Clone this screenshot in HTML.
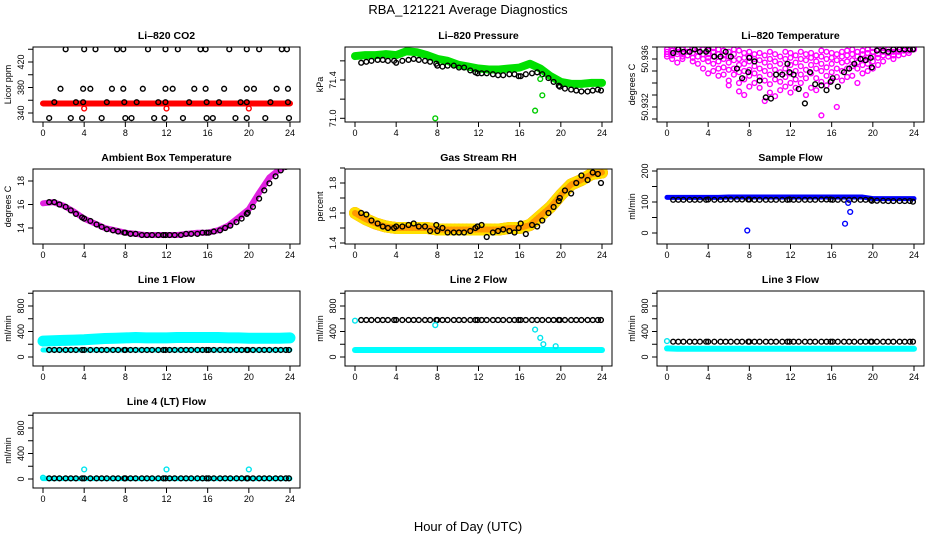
<!DOCTYPE html>
<html><head><meta charset="utf-8"><style>
body{margin:0;background:#fff}
svg{display:block;font-family:"Liberation Sans",Arial,sans-serif}
</style></head><body>
<svg id="c" width="936" height="540" viewBox="0 0 936 540">
<text x="468" y="14" text-anchor="middle" font-size="13">RBA_121221  Average Diagnostics</text>
<text x="468" y="531" text-anchor="middle" font-size="13">Hour of Day (UTC)</text>
</svg>
<script>
// ---- shared time data ----
const T25 = [0,1,2,3,4,5,6,7,8,9,10,11,12,13,14,15,16,17,18,19,20,21,22,23,24];
const tB = [0.6,1.1,1.6,2.2,2.7,3.2,3.8,4.0,4.6,5.2,5.7,6.2,6.8,7.3,7.9,8.0,8.5,9.0,9.6,10.1,10.6,11.2,11.7,11.9,12.3,12.8,13.4,13.9,14.4,15.0,15.5,15.9,16.1,16.6,17.2,17.7,18.2,18.8,19.3,19.8,19.9,20.4,21.0,21.5,22.0,22.6,23.1,23.6,23.9];
const xTicks = [0,4,8,12,16,20,24];
// ---- CO2 ----
const co2BlackT = [2.2,4.0,5.1,7.2,7.8,10.2,11.9,13.1,15.3,15.8,18.1,19.8,21.0,23.2,23.7, 1.7,3.9,4.6,6.7,7.8,9.7,11.9,12.6,14.7,15.8,17.6,19.8,20.5,22.7,23.8, 1.1,3.2,3.9,6.2,7.9,9.1,11.2,11.9,14.2,15.9,17.1,19.2,19.8,22.1,23.8, 0.6,2.7,3.8,5.7,8.0,8.6,10.8,11.8,13.6,15.9,16.5,18.7,19.8,21.6,23.9];
const co2BlackV = [440,440,440,440,440,440,440,440,440,440,440,440,440,440,440, 378,378,378,378,378,378,378,378,378,378,378,378,378,378,378, 357,357,357,357,357,357,357,357,357,357,357,357,357,357,357, 332,332,332,332,332,332,332,332,332,332,332,332,332,332,332];
const co2BandV = [355,355,355,355,355,355,355,355,355,355,355,355,355,355,355,355,355,355,355,355,355,355,355,355,355];
const co2OutT = [4.0,12.0,20.0];
const co2OutV = [347,347,347];
// ---- Pressure ----
const presBlackV = [71.58,71.59,71.6,71.61,71.61,71.6,71.6,71.58,71.6,71.61,71.62,71.61,71.6,71.59,71.57,71.55,71.54,71.55,71.55,71.53,71.53,71.5,71.48,71.47,71.47,71.47,71.46,71.45,71.45,71.46,71.46,71.44,71.44,71.46,71.47,71.48,71.46,71.42,71.38,71.34,71.33,71.31,71.3,71.29,71.28,71.28,71.29,71.3,71.29];
const presBandV = [71.65,71.66,71.66,71.67,71.66,71.7,71.69,71.66,71.62,71.6,71.56,71.54,71.52,71.51,71.51,71.52,71.53,71.57,71.52,71.44,71.38,71.36,71.36,71.37,71.37];
const presOutT = [7.8,17.5,18.2,18.0];
const presOutV = [71.0,71.08,71.24,71.41];
// ---- Li-820 Temperature ----
const tempPinkT = [0,0.5,1,1.5,2,2.5,3,3.5,4,4.5,5,5.5,6,6.5,7,7.5,8,8.5,9,9.5,10,10.5,11,11.5,12,12.5,13,13.5,14,14.5,15,15.5,16,16.5,17,17.5,18,18.5,19,19.5,20,20.5,21,21.5,22,22.5,23,23.5,24];
const tempPinkV = [
[50.9368,50.9366,50.9364,50.9362],[50.9369,50.9367,50.9365,50.9363,50.9360],[50.9369,50.9366,50.9364,50.9357],[50.9368,50.9365,50.9362,50.9360],
[50.9369,50.9366,50.9363],[50.9368,50.9365,50.9361,50.9358],[50.9369,50.9366,50.9362,50.9356],[50.9368,50.9364,50.9360,50.9352],
[50.9367,50.9364,50.9361,50.9358,50.9348],[50.9369,50.9366,50.9362,50.9356,50.9350],[50.9368,50.9364,50.9358,50.9352,50.9346],[50.9367,50.9363,50.9360,50.9353,50.9347],
[50.9366,50.9362,50.9357,50.9351,50.9342,50.9338],[50.9368,50.9364,50.9359,50.9352,50.9347],[50.9367,50.9360,50.9355,50.9349,50.9340,50.9333],[50.9365,50.9361,50.9356,50.9350,50.9343,50.9330],
[50.9366,50.9362,50.9358,50.9351,50.9346,50.9337],[50.9364,50.9360,50.9354,50.9348,50.9340],[50.9365,50.9359,50.9352,50.9345,50.9336],[50.9363,50.9357,50.9350,50.9342,50.9325],
[50.9366,50.9360,50.9354,50.9347,50.9339,50.9332],[50.9364,50.9358,50.9351,50.9343,50.9329],[50.9362,50.9356,50.9349,50.9341,50.9334],[50.9366,50.9360,50.9352,50.9345,50.9337],
[50.9365,50.9361,50.9355,50.9348,50.9340,50.9332],[50.9363,50.9357,50.9350,50.9343,50.9336],[50.9366,50.9360,50.9354,50.9347,50.9340],[50.9364,50.9359,50.9351,50.9344,50.9330],
[50.9365,50.9361,50.9355,50.9348,50.9336],[50.9363,50.9358,50.9352,50.9344,50.9334],[50.9367,50.9362,50.9356,50.9350,50.9341,50.9313],[50.9366,50.9360,50.9353,50.9346,50.9338],
[50.9365,50.9361,50.9356,50.9349,50.9342],[50.9364,50.9359,50.9352,50.9345,50.9320],[50.9366,50.9362,50.9357,50.9350,50.9342],[50.9367,50.9363,50.9358,50.9352,50.9345],
[50.9368,50.9364,50.9359,50.9354,50.9346],[50.9366,50.9362,50.9357,50.9352,50.9340],[50.9367,50.9364,50.9360,50.9355,50.9348],[50.9368,50.9365,50.9361,50.9356,50.9350],
[50.9369,50.9366,50.9362,50.9358,50.9352],[50.9368,50.9364,50.9361,50.9355],[50.9369,50.9366,50.9363,50.9358],[50.9368,50.9365,50.9362],
[50.9369,50.9366,50.9363,50.9360],[50.9368,50.9366,50.9363],[50.9369,50.9367,50.9364],[50.9369,50.9367,50.9365],[50.9369,50.9368]];
const tempBlackV = [50.9365,50.9368,50.9366,50.9366,50.9368,50.9366,50.9366,50.9368,50.9362,50.9362,50.9366,50.9362,50.9352,50.9344,50.9349,50.9361,50.9358,50.9342,50.9328,50.9327,50.9347,50.9347,50.9356,50.9349,50.9347,50.9335,50.9323,50.9349,50.9339,50.9338,50.9334,50.9341,50.9344,50.9337,50.9349,50.9352,50.9356,50.9360,50.9359,50.9361,50.9353,50.9367,50.9367,50.9366,50.9368,50.9368,50.9368,50.9368,50.9368];
// ---- Ambient box temperature ----
const ambBlackV = [16.2,16.2,16,15.8,15.5,15.2,14.9,14.8,14.6,14.3,14.1,13.9,13.8,13.7,13.6,13.6,13.5,13.5,13.4,13.4,13.4,13.4,13.4,13.4,13.4,13.4,13.4,13.5,13.5,13.5,13.6,13.6,13.6,13.7,13.8,14.0,14.2,14.5,14.8,15.2,15.3,15.8,16.5,17.2,17.8,18.4,18.9,19.2,19.3];
const ambBandV = [16.1,16.2,15.9,15.4,14.8,14.4,14.0,13.8,13.6,13.5,13.4,13.4,13.4,13.4,13.5,13.6,13.6,13.8,14.2,14.9,15.6,17.0,18.3,19.0,19.4];
// ---- Gas stream RH ----
const rhBlackV = [1.6,1.59,1.55,1.53,1.51,1.5,1.5,1.51,1.51,1.52,1.53,1.51,1.51,1.48,1.52,1.48,1.5,1.47,1.47,1.47,1.47,1.48,1.5,1.51,1.52,1.44,1.47,1.48,1.49,1.48,1.47,1.5,1.53,1.46,1.52,1.51,1.55,1.6,1.64,1.68,1.7,1.75,1.73,1.8,1.85,1.82,1.87,1.86,1.8];
const rhBandV = [1.6,1.56,1.53,1.51,1.5,1.5,1.5,1.5,1.49,1.49,1.49,1.49,1.49,1.49,1.49,1.5,1.5,1.52,1.58,1.64,1.72,1.79,1.82,1.86,1.87];
// ---- Sample flow ----
const sfBlackV = [107,107,107,107,107,107,107,108,107,107,108,108,108,108,108,108,107,107,107,107,107,107,107,108,107,107,107,107,107,108,108,108,107,107,107,107,107,107,107,107,104,104,104,103,103,103,103,103,101];
const sfBandV = [115,115,115,115,115,115,116,116,116,116,116,116,116,116,116,116,116,116,116,116,111,111,111,111,111];
const sfOutT = [7.8,17.3,17.6,17.8];
const sfOutV = [8,30,97,68];
// ---- Line flows ----
const l1BlackV = tB.map(()=>110);
const l1BandLoV = [110,110,110,110,110,110,110,110,110,110,110,110,110,110,110,110,110,110,110,110,110,110,110,110,110];
const l1BandHiV = [250,255,260,265,270,280,290,295,300,305,300,300,300,305,305,305,305,305,300,300,295,295,295,295,300];
const l2BlackV = tB.map(()=>580);
const l2BandV = [110,110,110,110,110,110,110,110,110,110,110,110,110,110,110,110,110,110,110,110,110,110,110,110,110];
const l2OutT = [0,7.8,17.5,18.0,18.3,19.5];
const l2OutV = [570,500,430,300,200,170];
const l3BlackV = tB.map(()=>240);
const l3BandV = [135,130,130,130,130,130,130,130,130,130,130,130,130,130,130,130,130,130,130,130,130,130,130,130,130];
const l3OutT = [0];
const l3OutV = [250];
const l4BlackV = tB.map(()=>10);
const l4BandV = [5,5,5,5,5,5,5,5,5,5,5,5,5,5,5,5,5,5,5,5,5,5,5,5,5];
const l4OutT = [0,4.0,12.0,20.0];
const l4OutV = [20,150,150,150];

const NS="http://www.w3.org/2000/svg";
const svg=document.getElementById('c');
function mk(tag,attrs,parent){const e=document.createElementNS(NS,tag);for(const k in attrs)e.setAttribute(k,attrs[k]);(parent||svg).appendChild(e);return e;}

const panels=[
 {name:'co2',title:'Li\u2013820 CO2',yl:'Licor ppm',c:0,r:0,v1:340,p1:113,v2:420,p2:62,ticks:[340,360,380,400,420,440],labels:[340,380,420]},
 {name:'pressure',title:'Li\u2013820 Pressure',yl:'kPa',c:1,r:0,v1:71.0,p1:118.3,v2:71.4,p2:80,ticks:[71.0,71.2,71.4,71.6],labels:[71.0,71.4],dec:1},
 {name:'li820-temp',title:'Li\u2013820 Temperature',yl:'degrees C',c:2,r:0,v1:50.932,p1:107,v2:50.936,p2:59,ticks:[50.931,50.932,50.933,50.934,50.935,50.936,50.937],labels:[50.932,50.936],dec:3},
 {name:'ambient-temp',title:'Ambient Box Temperature',yl:'degrees C',c:0,r:1,v1:14,p1:228,v2:18,p2:181,ticks:[14,16,18],labels:[14,16,18]},
 {name:'gas-rh',title:'Gas Stream RH',yl:'percent',c:1,r:1,v1:1.4,p1:243,v2:1.8,p2:183,ticks:[1.4,1.5,1.6,1.7,1.8,1.9],labels:[1.4,1.6,1.8],dec:1},
 {name:'sample-flow',title:'Sample Flow',yl:'ml/min',c:2,r:1,v1:0,p1:233,v2:200,p2:171,ticks:[0,50,100,150,200],labels:[0,100,200]},
 {name:'line1-flow',title:'Line 1 Flow',yl:'ml/min',c:0,r:2,v1:0,p1:357,v2:800,p2:306,ticks:[0,200,400,600,800,1000],labels:[0,400,800]},
 {name:'line2-flow',title:'Line 2 Flow',yl:'ml/min',c:1,r:2,v1:0,p1:357,v2:800,p2:306,ticks:[0,200,400,600,800,1000],labels:[0,400,800]},
 {name:'line3-flow',title:'Line 3 Flow',yl:'ml/min',c:2,r:2,v1:0,p1:357,v2:800,p2:306,ticks:[0,200,400,600,800,1000],labels:[0,400,800]},
 {name:'line4-flow',title:'Line 4 (LT) Flow',yl:'ml/min',c:0,r:3,v1:0,p1:479,v2:800,p2:428,ticks:[0,200,400,600,800,1000],labels:[0,400,800]}
];

function pts(g,ts,vs,X,Y,color,r){ts.forEach((t,i)=>{const c=mk('circle',{cx:X(t),cy:Y(vs[i]),r:r||2.4,fill:'none',stroke:color,'stroke-width':1.4},g);

});}
function band(g,ts,vs,X,Y,color,w,dash){const p=mk('polyline',{points:ts.map((t,i)=>X(t)+','+Y(vs[i])).join(' '),fill:'none',stroke:color,'stroke-width':w,'stroke-linejoin':'round','stroke-linecap':'round'},g);
if(dash)p.setAttribute('stroke-dasharray',dash);

}

panels.forEach((P,idx)=>{
 const L=33+312*P.c,R=300+312*P.c,T=47+122*P.r,B=122+122*P.r;
 const x0=43+312*P.c,xs=247/24;
 const X=h=>x0+h*xs;
 const k=(P.p2-P.p1)/(P.v2-P.v1);
 const Y=v=>P.p1+(v-P.v1)*k;
 const g=mk('g',{});
 
 
 const t=mk('text',{x:(x0+X(24))/2,y:T-8,'text-anchor':'middle','font-size':10.5,'font-weight':'bold'},g);t.textContent=P.title;
 
 
 const cid='clip'+idx;
 const cp=mk('clipPath',{id:cid},g);mk('rect',{x:L,y:T,width:R-L,height:B-T},cp);
 const pg=mk('g',{'clip-path':'url(#'+cid+')'},g);
 
 
 if(P.name==='co2'){band(pg,T25,co2BandV,X,Y,'#ff0000',6);pts(pg,co2BlackT,co2BlackV,X,Y,'#000');pts(pg,co2OutT,co2OutV,X,Y,'#ff0000');}
 if(P.name==='pressure'){band(pg,T25,presBandV,X,Y,'#00e000',8);pts(pg,tB,presBlackV,X,Y,'#000');pts(pg,presOutT,presOutV,X,Y,'#00cc00');}
 if(P.name==='li820-temp'){tempPinkT.forEach((tt,i)=>pts(pg,tempPinkV[i].map(()=>tt),tempPinkV[i],X,Y,'#ff00ff'));pts(pg,tB,tempBlackV,X,Y,'#000');}
 if(P.name==='ambient-temp'){band(pg,T25,ambBandV,X,Y,'#e020e0',6);pts(pg,tB,ambBlackV,X,Y,'#000');}
 if(P.name==='gas-rh'){band(pg,T25,rhBandV,X,Y,'#ff2000',12);band(pg,T25,rhBandV,X,Y,'#ffe000',12,'2 2');band(pg,T25,rhBandV,X,Y,'#ff9900',6,'1 2');pts(pg,tB,rhBlackV,X,Y,'#000');}
 if(P.name==='sample-flow'){band(pg,T25,sfBandV,X,Y,'#0000ff',5);pts(pg,tB,sfBlackV,X,Y,'#000');pts(pg,sfOutT,sfOutV,X,Y,'#0000ff');}
 if(P.name==='line1-flow'){band(pg,T25,l1BandHiV,X,Y,'#00ffff',11);band(pg,T25,l1BandLoV,X,Y,'#00ffff',5);pts(pg,tB,l1BlackV,X,Y,'#000');}
 if(P.name==='line2-flow'){band(pg,T25,l2BandV,X,Y,'#00ffff',6);pts(pg,tB,l2BlackV,X,Y,'#000');pts(pg,l2OutT,l2OutV,X,Y,'#00e5ee');}
 if(P.name==='line3-flow'){band(pg,T25,l3BandV,X,Y,'#00ffff',6);pts(pg,tB,l3BlackV,X,Y,'#000');pts(pg,l3OutT,l3OutV,X,Y,'#00e5ee');}
 if(P.name==='line4-flow'){band(pg,T25,l4BandV,X,Y,'#00ffff',5);pts(pg,tB,l4BlackV,X,Y,'#000');pts(pg,l4OutT,l4OutV,X,Y,'#00e5ee');}
 const bx=mk('rect',{x:L,y:T,width:R-L,height:B-T,fill:'none',stroke:'#000','stroke-width':1},g);
 
 
 xTicks.forEach(h=>{mk('line',{x1:X(h),x2:X(h),y1:B,y2:B+5,stroke:'#000'},g);
  const tl=mk('text',{x:X(h),y:B+14,'text-anchor':'middle','font-size':9},g);tl.textContent=h;
  
  });
 P.ticks.forEach(v=>{const y=Y(v);if(y<T-1||y>B+1)return;mk('line',{x1:L,x2:L-5,y1:y,y2:y,stroke:'#000'},g);});
 P.labels.forEach(v=>{const y=Y(v);const tl=mk('text',{x:L-9,y:y,'text-anchor':'middle','font-size':9,transform:'rotate(-90 '+(L-9)+' '+y+')'},g);
  tl.textContent=P.dec?v.toFixed(P.dec):v;
  
  });
 const yt=mk('text',{x:L-22,y:(T+B)/2,'text-anchor':'middle','font-size':9,transform:'rotate(-90 '+(L-22)+' '+((T+B)/2)+')'},g);
 yt.textContent=P.yl;
 
 
});
</script>
</body></html>
